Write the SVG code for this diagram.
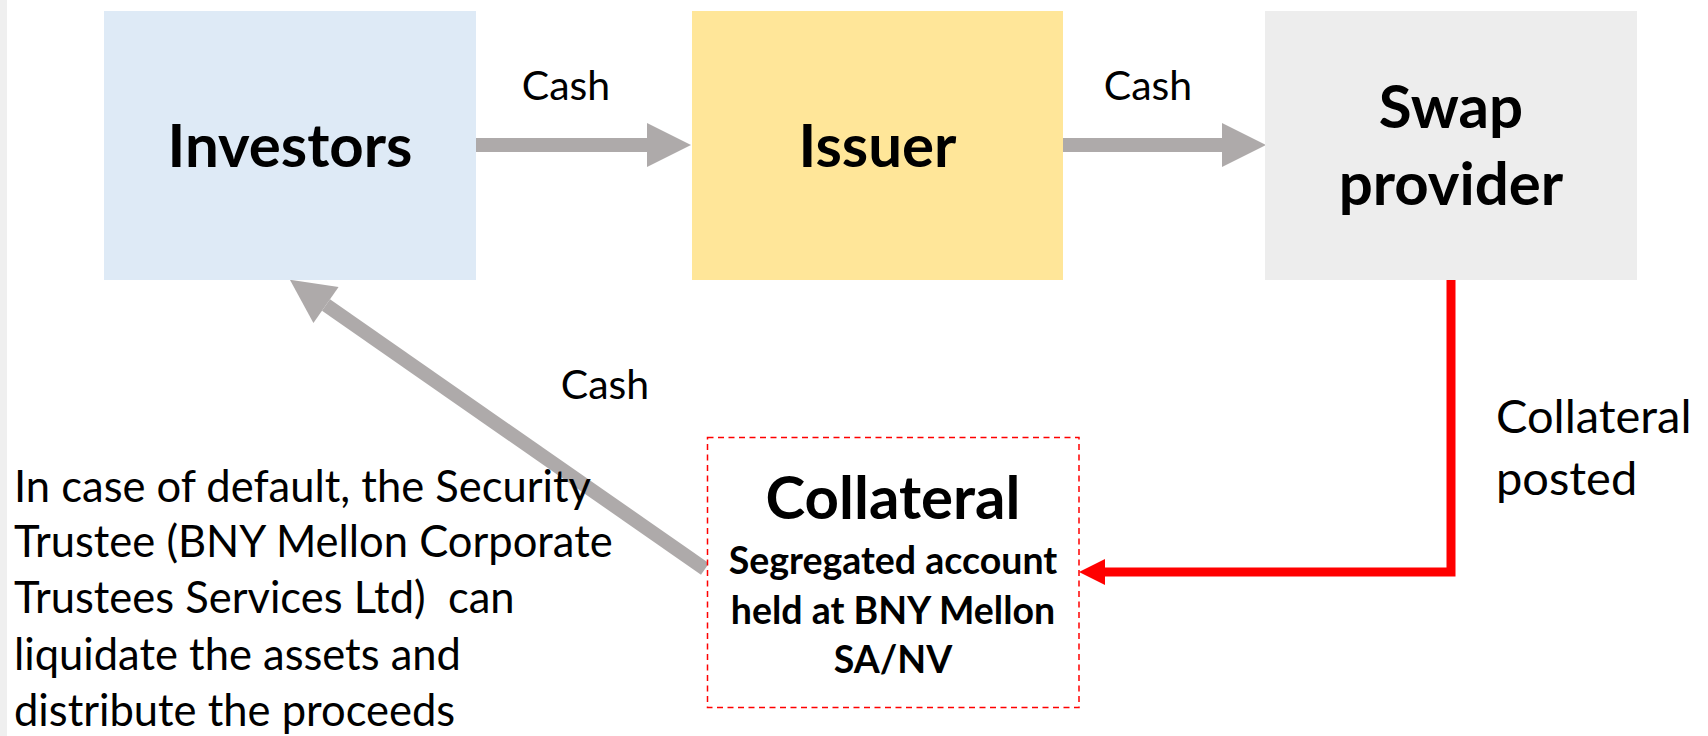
<svg xmlns="http://www.w3.org/2000/svg" width="1708" height="736" viewBox="0 0 1708 736">
  <style>
    .box-title { font-family: Lato, "Open Sans", sans-serif; font-weight: 700; font-size: 60px; fill: #000; text-anchor: middle; }
    .sub { font-family: Lato, "Open Sans", sans-serif; font-weight: 700; font-size: 37.5px; fill: #000; text-anchor: middle; }
    .label { font-family: Lato, "Open Sans", sans-serif; font-size: 41px; fill: #000; }
    .side-label { font-family: Lato, "Open Sans", sans-serif; font-size: 47px; fill: #000; }
    .note { font-family: Lato, "Open Sans", sans-serif; font-size: 43.5px; fill: #000; }
    .flow { stroke: #aeaaaa; stroke-width: 14; fill: none; marker-end: url(#grayHead); }
  </style>
  <defs>
    <marker id="grayHead" markerUnits="userSpaceOnUse" markerWidth="44" markerHeight="44" refX="0" refY="22" orient="auto" overflow="visible">
      <path d="M0,0 L44,22 L0,44 Z" fill="#aeaaaa"/>
    </marker>
  </defs>

  <rect x="0" y="0" width="1708" height="736" fill="#ffffff"/>
  <rect x="0" y="0" width="7" height="736" fill="#efefef"/>

  <!-- connectors -->
  <g id="connectors">
    <line class="flow" x1="476" y1="145" x2="647" y2="145"/>
    <line class="flow" x1="1063" y1="145" x2="1222" y2="145"/>
    <line class="flow" x1="705" y1="569" x2="326" y2="305"/>
    <polyline points="1451,280 1451,572 1104,572" fill="none" stroke="#ff0000" stroke-width="9" stroke-linejoin="miter"/>
    <polygon points="1079,572 1105,559 1105,585" fill="#ff0000"/>
  </g>

  <g id="investors">
    <rect x="104" y="11" width="372" height="269" fill="#deeaf6"/>
    <text class="box-title" x="290" y="167">Investors</text>
  </g>

  <g id="issuer">
    <rect x="692" y="11" width="371" height="269" fill="#ffe699"/>
    <text class="box-title" x="877.5" y="167">Issuer</text>
  </g>

  <g id="swap-provider">
    <rect x="1265" y="11" width="372" height="269" fill="#ededed"/>
    <text class="box-title" x="1451" y="128">Swap</text>
    <text class="box-title" x="1451" y="205">provider</text>
  </g>

  <g id="collateral">
    <rect x="707.5" y="437.5" width="371.5" height="270" fill="#ffffff" stroke="#ff0000" stroke-width="1.5" stroke-dasharray="6,4.5"/>
    <text class="box-title" x="893" y="519">Collateral</text>
    <text class="sub" x="893" y="574">Segregated account</text>
    <text class="sub" x="893" y="624">held at BNY Mellon</text>
    <text class="sub" x="893" y="673">SA/NV</text>
  </g>

  <g id="labels">
    <text class="label" x="566" y="100" text-anchor="middle">Cash</text>
    <text class="label" x="1148" y="100" text-anchor="middle">Cash</text>
    <text class="label" x="605" y="399" text-anchor="middle">Cash</text>
    <text class="side-label" x="1496" y="433">Collateral</text>
    <text class="side-label" x="1496" y="495">posted</text>
  </g>

  <g id="note">
    <text class="note" x="14" y="502">In case of default, the Security</text>
    <text class="note" x="14" y="557">Trustee (BNY Mellon Corporate</text>
    <text class="note" x="14" y="613" xml:space="preserve">Trustees Services Ltd)  can</text>
    <text class="note" x="14" y="670">liquidate the assets and</text>
    <text class="note" x="14" y="726">distribute the proceeds</text>
  </g>
</svg>
